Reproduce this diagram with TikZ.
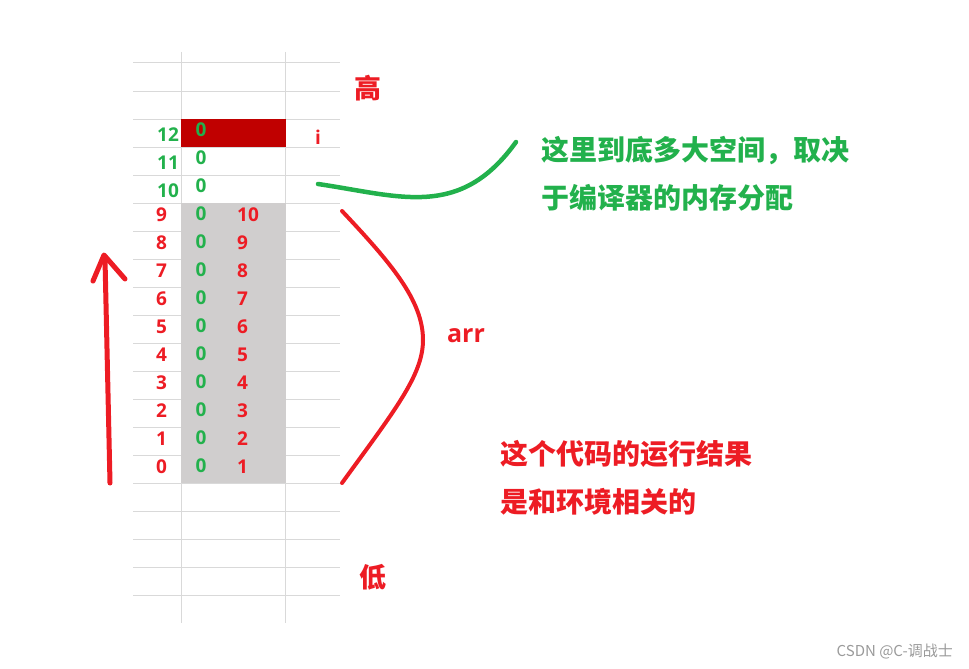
\documentclass[tikz,border=0pt]{standalone}
\usepackage{fontspec}
\newfontfamily\cjk{Noto Sans CJK SC}
\newfontfamily\numfont{Open Sans}
\definecolor{penred}{HTML}{ED1C24}
\definecolor{pengreen}{HTML}{22B14C}
\definecolor{cellred}{HTML}{C00000}
\definecolor{cellgray}{HTML}{D0CECE}
\definecolor{gridgray}{HTML}{D9D9D9}
\definecolor{markgray}{HTML}{9A9A9A}

\begin{document}
\begin{tikzpicture}[
    x=1pt, y=-1pt,
    gridline/.style={draw=gridgray, line width=1pt},
    num/.style={font=\numfont\bfseries\fontsize{19}{19}\selectfont, inner sep=0pt},
    hanzi/.style={font=\cjk\bfseries\fontsize{27}{27}\selectfont, text=penred, inner sep=0pt},
    note/.style={
        font=\cjk\bfseries\fontsize{28}{48}\selectfont,
        align=left, anchor=west, inner sep=0pt
    },
    redpen/.style={draw=penred, line width=5pt, line cap=round, line join=round},
    greenpen/.style={draw=pengreen, line width=4.5pt, line cap=round}
]
\useasboundingbox (0,0) rectangle (969,669);

% sheet grid
\foreach \k in {0,...,19}
    \draw[gridline] (133,63+28*\k) -- (340,63+28*\k);
\draw[gridline] (181.5,52) -- (181.5,623);
\draw[gridline] (285.5,52) -- (285.5,623);

% cells
\fill[cellgray] (181,203) rectangle (286,483);
\fill[cellred] (181,119) rectangle (286,147);

% row contents
\foreach \r in {0,...,9} {
    \pgfmathtruncatemacro\val{\r+1}
    \node[num, text=penred, anchor=west] (idx\r) at (156,467-28*\r) {\r};
    \node[num, text=pengreen] (zero\r) at (201,466-28*\r) {0};
    \node[num, text=penred, anchor=west] (val\r) at (237,467-28*\r) {\val};
}
\foreach \r in {10,11,12} {
    \node[num, text=pengreen, anchor=west] (idx\r) at (157,471-28*\r) {\r};
    \node[num, text=pengreen] (zero\r) at (201,466-28*\r) {0};
}
\node[num, text=penred] (ilabel) at (318,137) {i};

\node[hanzi] (high) at (368,88) {高};
\node[hanzi] (low) at (373,577) {低};

% address direction
\coordinate (up) at (104,255);
\coordinate (down) at (110,483);
\draw[redpen] (down) -- (105,259);
\draw[redpen] (93,281) -- (up) -- (125,279);

% arr brace
\coordinate (btop) at (342,211);
\coordinate (bbot) at (342,483);
\draw[redpen, line width=4pt] (btop) .. controls (390,262) and (423,300) .. (423,340)
    .. controls (423,375) and (395,410) .. (bbot);
\node[font=\numfont\bfseries\fontsize{25}{25}\selectfont, text=penred, inner sep=0pt]
    (arrlabel) at (466,336) {arr};

% notes
\coordinate (gstart) at (318,184);
\coordinate (gend) at (516,142);
\draw[greenpen] (gstart) .. controls (400,196) and (460,220) .. (gend);
\node[note, text=pengreen] (gnote) at (541,174) {这里到底多大空间，取决\\于编译器的内存分配};
\node[note, text=penred] (rnote) at (500,478) {这个代码的运行结果\\是和环境相关的};

\node[font=\cjk\fontsize{15}{15}\selectfont, text=markgray, anchor=east, inner sep=0pt]
    (mark) at (953,652) {CSDN @C-调战士};
\end{tikzpicture}
\end{document}
